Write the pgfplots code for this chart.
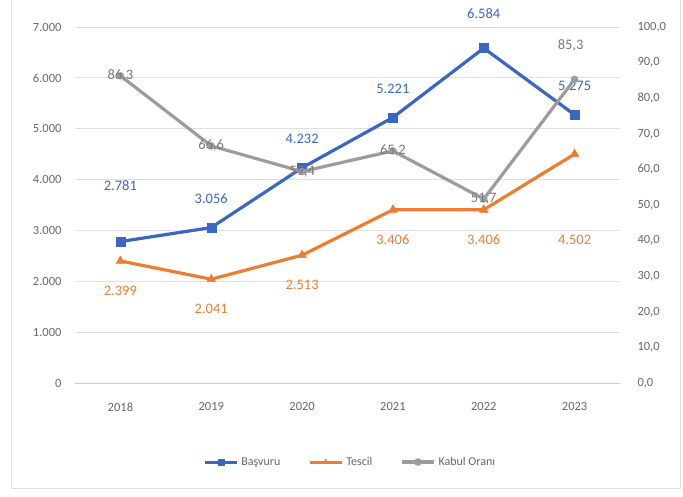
\documentclass[border=0pt]{standalone}
\usepackage{pgfplots}
\pgfplotsset{compat=1.18}
\usepackage{fontspec}
\setmainfont{Carlito}

\definecolor{bblue}{HTML}{3A66C4}
\definecolor{borange}{HTML}{ED7D31}
\definecolor{bgray}{HTML}{9C9C9C}
\definecolor{lgray}{HTML}{7A7A7A}
\definecolor{tgray}{HTML}{666666}

\tikzset{lab/.style={font=\fontsize{14.5}{16}\selectfont, anchor=center}}

\begin{document}
\begin{tikzpicture}
\path[use as bounding box] (-75pt,-113pt) rectangle (608pt,383pt);
\draw[gray!25, line width=1pt] (-63pt,383pt) -- (-63pt,-105pt) -- (605pt,-105pt) -- (605pt,383pt);

\pgfplotsset{
  common/.style={
    scale only axis, width=545pt, height=356pt,
    xmin=-0.5, xmax=5.5,
    major tick length=0pt,
    tick label style={font=\fontsize{12.5}{14}\selectfont, text=tgray},
    /pgf/number format/assume math mode=true,
    legend image code/.code={
      \draw[##1, mark repeat=2, mark phase=2] plot coordinates {(0pt,0pt) (16pt,0pt) (32pt,0pt)};
    },
  },
}

% left axis: Basvuru and Tescil
\begin{axis}[common,
    ymin=0, ymax=7000, ytick={0,1000,...,7000},
    xtick={0,...,5}, xticklabels={2018,2019,2020,2021,2022,2023},
    axis x line*=bottom, axis y line*=left,
    x axis line style={draw=gray!40, line width=0.8pt, -},
    y axis line style={draw=none},
    ymajorgrids, grid style={gray!25, line width=0.8pt},
    yticklabel style={/pgf/number format/1000 sep={.}, xshift=-10pt},
    xticklabel style={yshift=-16pt},
  ]
  \addplot[bblue, line width=3.2pt, mark=square*, mark size=4.5pt, mark options={solid, line width=0.5pt},
    nodes near coords, nodes near coords style={/pgf/number format/1000 sep={.}},
    every node near coord/.append style={lab, text=bblue, yshift=29pt},
    coordinate style/.condition={x==0}{yshift=27pt},
    coordinate style/.condition={x==4}{yshift=6pt}]
    coordinates {(0,2781) (1,3056) (2,4232) (3,5221) (4,6584) (5,5275)};
  \addplot[borange, line width=3.2pt, mark=triangle*, mark size=5pt, mark options={solid, line width=0.5pt},
    nodes near coords, nodes near coords style={/pgf/number format/1000 sep={.}},
    every node near coord/.append style={lab, text=borange, yshift=-30pt},
    coordinate style/.condition={x==5}{yshift=-56pt}]
    coordinates {(0,2399) (1,2041) (2,2513) (3,3406) (4,3406) (5,4502)};
\end{axis}

% right axis: Kabul Orani
\begin{axis}[common,
    ymin=0, ymax=100, ytick={0,10,...,100},
    axis x line=none, axis y line*=right,
    y axis line style={draw=none},
    yticklabel style={/pgf/number format/fixed, /pgf/number format/fixed zerofill,
      /pgf/number format/precision=1, /pgf/number format/use comma, xshift=14pt},
    legend style={at={(0.505,-0.222)}, anchor=center, draw=none, legend columns=-1,
      font=\fontsize{12}{14}\selectfont, text=tgray,
      /tikz/every odd column/.append style={column sep=1pt},
      /tikz/every even column/.append style={column sep=26pt}},
  ]
  \addlegendimage{bblue, line width=3pt, mark=square*, mark size=3pt, mark options={solid, line width=0.5pt}}
  \addlegendentry{Başvuru}
  \addlegendimage{borange, line width=3pt, mark=triangle*, mark size=3pt, mark options={solid, line width=0.5pt}}
  \addlegendentry{Tescil}
  \addplot[bgray, line width=3.2pt, mark=*, mark size=3.5pt, mark options={solid, line width=0.5pt},
    nodes near coords, nodes near coords style={/pgf/number format/fixed, /pgf/number format/fixed zerofill,
      /pgf/number format/precision=1, /pgf/number format/use comma},
    every node near coord/.append style={lab, text=lgray},
    coordinate style/.condition={x==5}{yshift=34pt, xshift=-4pt}]
    coordinates {(0,86.3) (1,66.6) (2,59.4) (3,65.2) (4,51.7) (5,85.3)};
  \addlegendentry{Kabul Oranı}
\end{axis}
\end{tikzpicture}
\end{document}
